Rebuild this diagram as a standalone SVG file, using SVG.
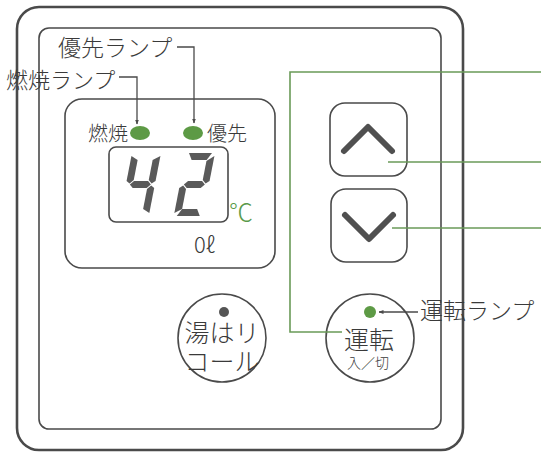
<svg xmlns="http://www.w3.org/2000/svg" width="541" height="452" viewBox="0 0 541 452">
<defs>
<style>
.frame{fill:none;stroke:#4a4a4a}
.line{fill:none;stroke:#4a4a4a;stroke-width:1.3}
.grn{fill:none;stroke:#6a9a58;stroke-width:1.6}
.t{font-family:"Liberation Sans","Noto Sans CJK JP","Noto Sans",sans-serif;font-weight:300;fill:#3a3a3a}
.seg{fill:#5a5a5a}
.led{fill:#5d9a45}
.chev{fill:none;stroke:#505050;stroke-width:6;stroke-linecap:round;stroke-linejoin:round}
</style>
<marker id="ah" viewBox="0 0 10 10" refX="9" refY="5" markerWidth="5" markerHeight="5" orient="auto" markerUnits="userSpaceOnUse">
<path d="M0,1 L10,5 L0,9 Z" fill="#4a4a4a"/>
</marker>
<g id="d4">
<polygon class="seg" points="0,3 7,7 7,27 3.5,30.5 0,28"/>
<polygon class="seg" points="29,3 29,28 25.5,30.5 22,27 22,7"/>
<polygon class="seg" points="4,31.5 7.5,28 21.5,28 25,31.5 21.5,35 7.5,35"/>
<polygon class="seg" points="29,35 29,60 22,56 22,36 25.5,32.5"/>
</g>
<g id="d2">
<polygon class="seg" points="3,0 26,0 22,7 7,7"/>
<polygon class="seg" points="29,3 29,28 25.5,30.5 22,27 22,8"/>
<polygon class="seg" points="4,31.5 7.5,28 21.5,28 25,31.5 21.5,35 7.5,35"/>
<polygon class="seg" points="0,35 3.5,32.5 7,36 7,56 0,60"/>
<polygon class="seg" points="3,63 7,56 22,56 26,63"/>
</g>
</defs>
<rect width="541" height="452" fill="#ffffff"/>
<g id="outer-frame">
<rect class="frame" x="17" y="7" width="446" height="443" rx="22" stroke-width="2.6"/>
</g>
<g id="inner-frame">
<rect class="frame" x="39" y="28" width="402" height="401" rx="10" stroke-width="1.6"/>
</g>
<g id="display">
<rect class="frame" x="65" y="99" width="210" height="169" rx="17" stroke-width="1.6"/>
<rect class="frame" x="109" y="147" width="119" height="75" rx="7" stroke-width="1.6"/>
<use href="#d4" transform="translate(132,153) skewX(-11)"/>
<use href="#d2" transform="translate(186,153) skewX(-11)"/>
<text class="t" x="229" y="221" font-size="24" style="fill:#5a9a4a">℃</text>
<text class="t" x="194" y="253" font-size="22" style="font-family:'Noto Sans CJK JP','Noto Sans',sans-serif">0ℓ</text>
</g>
<g id="lamp-burn">
<ellipse class="led" cx="140" cy="133" rx="10" ry="7"/>
<text class="t" x="88" y="141" font-size="20">燃焼</text>
</g>
<g id="lamp-priority">
<ellipse class="led" cx="193" cy="133" rx="10" ry="7"/>
<text class="t" x="207" y="141" font-size="20">優先</text>
</g>
<g id="label-priority">
<text class="t" x="58" y="56" font-size="23">優先ランプ</text>
</g>
<g id="label-burn">
<text class="t" x="6" y="88" font-size="22">燃焼ランプ</text>
</g>
<g id="btn-up">
<rect class="frame" x="330" y="103" width="77" height="73" rx="15" stroke-width="1.6"/>
<polyline class="chev" points="344,151 368,127 392,151"/>
</g>
<g id="btn-down">
<rect class="frame" x="331" y="189" width="76" height="73" rx="15" stroke-width="1.6"/>
<polyline class="chev" points="345,215 369,239 393,215"/>
</g>
<g id="btn-recall">
<circle class="frame" cx="222" cy="338" r="44" stroke-width="1.6"/>
<circle cx="224" cy="312" r="5" fill="#555555"/>
<text class="t" x="222" y="342" font-size="25" text-anchor="middle">湯はリ</text>
<text class="t" x="222" y="371" font-size="25" text-anchor="middle">コール</text>
</g>
<g id="btn-run">
<circle class="frame" cx="370" cy="338" r="44" stroke-width="1.6"/>
<circle class="led" cx="370" cy="312" r="6"/>
<text class="t" x="369" y="349" font-size="25" text-anchor="middle">運転</text>
<text class="t" x="368" y="368" font-size="14" text-anchor="middle">入／切</text>
</g>
<g id="label-run">
<text class="t" x="420" y="319" font-size="23">運転ランプ</text>
</g>
<g id="connectors">
<polyline class="line" points="177,47 194,47 194,123" marker-end="url(#ah)"/>
<polyline class="line" points="119,77 137,77 137,124" marker-end="url(#ah)"/>
<line class="line" x1="418" y1="312" x2="379" y2="312" marker-end="url(#ah)"/>
<polyline class="grn" points="541,72 290,72 290,332 342,332"/>
<line class="grn" x1="388" y1="162" x2="541" y2="162"/>
<line class="grn" x1="392" y1="228" x2="541" y2="228"/>
</g>
</svg>
